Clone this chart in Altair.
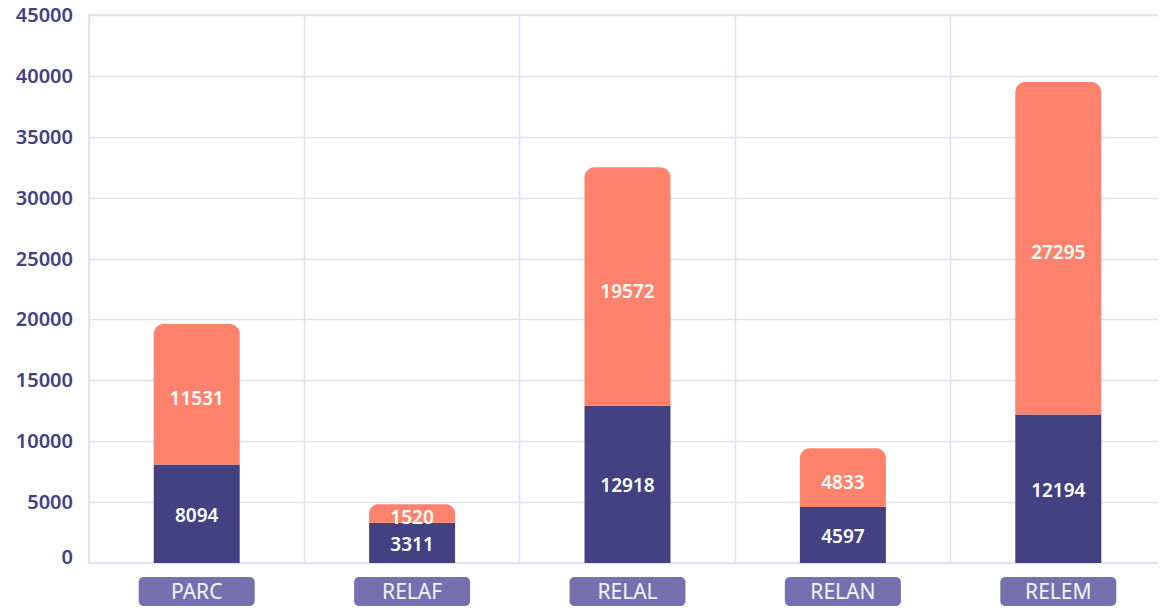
import altair as alt
import pandas as pd

categories = ["PARC", "RELAF", "RELAL", "RELAN", "RELEM"]
bottom_values = [8094, 3311, 12918, 4597, 12194]
top_values = [11531, 1520, 19572, 4833, 27295]
y_ticks = [0, 5000, 10000, 15000, 20000, 25000, 30000, 35000, 40000, 45000]

DARK = "#424282"
CORAL = "#ff836c"
BOX = "#7471ae"
GRID = "#e2e0f2"
FONT = "Noto Sans"

df = pd.DataFrame({"cat": categories, "bottom": bottom_values, "top": top_values})
df["total"] = df["bottom"] + df["top"]
ticks_df = pd.DataFrame({"v": y_ticks})

W, H = 1077, 548

xenc = alt.X("cat:N", sort=categories,
             scale=alt.Scale(paddingInner=0, paddingOuter=0),
             axis=alt.Axis(title=None, labels=False, ticks=False, domain=False,
                           grid=True, bandPosition=0, gridColor=GRID, gridWidth=1.5))
yscale = alt.Scale(domain=[0, 45000], nice=False)
yaxis = alt.Axis(title=None, values=y_ticks, labels=False,
                 ticks=False, domain=False, grid=True, gridColor=GRID, gridWidth=1.5)

base = alt.Chart(df)

dark = base.mark_bar(color=DARK, size=86).encode(
    x=xenc, y=alt.Y("bottom:Q", scale=yscale, axis=yaxis))
coral = base.mark_bar(color=CORAL, size=86, cornerRadiusTopLeft=10, cornerRadiusTopRight=10).encode(
    x=alt.X("cat:N", sort=categories), y=alt.Y("bottom:Q"), y2="total:Q")

lab_dark = base.transform_calculate(mid="datum.bottom/2").mark_text(
    color="white", font=FONT, fontSize=19, fontWeight=600, baseline="middle", dy=2).encode(
    x=alt.X("cat:N", sort=categories), y="mid:Q", text=alt.Text("bottom:Q", format="d"))
lab_coral = base.transform_calculate(mid="datum.bottom + datum.top/2").mark_text(
    color="white", font=FONT, fontSize=19, fontWeight=600, baseline="middle", dy=5).encode(
    x=alt.X("cat:N", sort=categories), y="mid:Q", text=alt.Text("top:Q", format="d"))

boxes = base.mark_bar(color=BOX, size=116, cornerRadius=5).encode(
    x=alt.X("cat:N", sort=categories), y=alt.value(H + 14), y2=alt.value(H + 43))
box_text = base.mark_text(color="#f4f4fb", font=FONT, fontSize=21, fontWeight=400,
                          baseline="middle").encode(
    x=alt.X("cat:N", sort=categories), y=alt.value(H + 30), text="cat:N")

tick_base = alt.Chart(ticks_df)
ylab_mid = tick_base.transform_filter("datum.v > 0").mark_text(
    color=DARK, font=FONT, fontSize=20, fontWeight=600, align="right", baseline="middle", dy=1).encode(
    x=alt.value(-16), y=alt.Y("v:Q"), text=alt.Text("v:Q", format="d"))
ylab_zero = tick_base.transform_filter("datum.v == 0").mark_text(
    color=DARK, font=FONT, fontSize=20, fontWeight=600, align="right", baseline="bottom", dy=5).encode(
    x=alt.value(-16), y=alt.Y("v:Q"), text=alt.Text("v:Q", format="d"))

chart = alt.layer(dark, coral, lab_dark, lab_coral, boxes, box_text, ylab_mid, ylab_zero).properties(
    width=W, height=H,
    autosize=alt.AutoSizeParams(type="none"),
    padding={"left": 81, "top": 7, "right": -8, "bottom": 46},
).configure_view(stroke=GRID, strokeWidth=1.5)

chart.save("out.html", embed_options={"renderer": "svg", "actions": False})
